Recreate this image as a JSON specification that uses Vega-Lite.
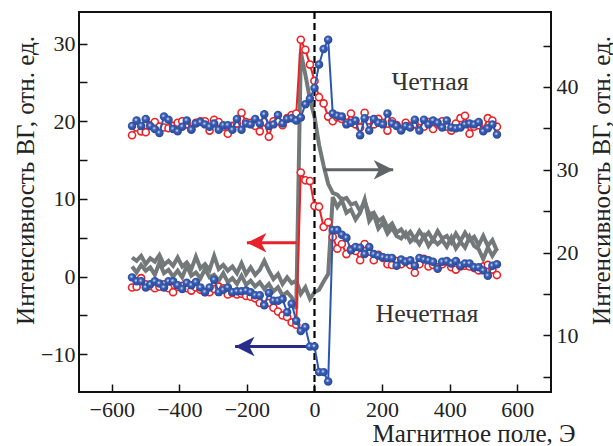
{
"$schema":"https://vega.github.io/schema/vega-lite/v6.json",
"width":472,"height":380,"autosize":"none",
"padding":{"left":79,"top":12,"right":62,"bottom":54},
"background":"white",
"config":{"view":{"stroke":"#111","strokeWidth":2},"font":"'Liberation Serif', 'DejaVu Serif', serif",
 "axis":{"labelFont":"'Liberation Serif', 'DejaVu Serif', serif","titleFont":"'Liberation Serif', 'DejaVu Serif', serif","labelFontSize":22,"titleFontSize":25,"titleFontWeight":"normal","labelColor":"#222","titleColor":"#222","tickSize":-8,"tickWidth":1.5,"tickColor":"#111","domain":false,"grid":false,"labelOverlap":false,"labelFlush":false}},
"datasets":{
"ru":[{"x":-540,"y":18.2},{"x":-526.5,"y":19.2},{"x":-513,"y":18.7},{"x":-499.5,"y":18.6},{"x":-486,"y":19.5},{"x":-472.5,"y":19.9},{"x":-459,"y":19.3},{"x":-445.5,"y":19.2},{"x":-432,"y":19.1},{"x":-418.5,"y":19.4},{"x":-405,"y":19.8},{"x":-391.5,"y":20.0},{"x":-378,"y":19.6},{"x":-364.5,"y":19.0},{"x":-351,"y":19.8},{"x":-337.5,"y":20.0},{"x":-324,"y":20.0},{"x":-310.5,"y":18.8},{"x":-297,"y":20.2},{"x":-283.5,"y":19.9},{"x":-270,"y":19.3},{"x":-256.5,"y":18.4},{"x":-243,"y":19.4},{"x":-229.5,"y":19.7},{"x":-216,"y":21.1},{"x":-202.5,"y":19.9},{"x":-189,"y":19.8},{"x":-175.5,"y":19.4},{"x":-162,"y":18.7},{"x":-148.5,"y":19.9},{"x":-135,"y":18.0},{"x":-121.5,"y":20.0},{"x":-108,"y":20.0},{"x":-94.5,"y":19.5},{"x":-81,"y":20.4},{"x":-67.5,"y":20.8},{"x":-54,"y":21.0},{"x":-40.5,"y":30.5},{"x":-27,"y":29.2},{"x":-13.5,"y":27.3},{"x":0,"y":25.2},{"x":13.5,"y":23.1},{"x":27,"y":22.3},{"x":40.5,"y":20.6},{"x":54,"y":20.0},{"x":67.5,"y":20.5},{"x":81,"y":20.3},{"x":94.5,"y":19.8},{"x":108,"y":21.0},{"x":121.5,"y":19.6},{"x":135,"y":19.2},{"x":148.5,"y":21.1},{"x":162,"y":20.1},{"x":175.5,"y":19.6},{"x":189,"y":20.3},{"x":202.5,"y":19.8},{"x":216,"y":18.8},{"x":229.5,"y":20.0},{"x":243,"y":19.5},{"x":256.5,"y":19.0},{"x":270,"y":19.8},{"x":283.5,"y":19.4},{"x":297,"y":19.6},{"x":310.5,"y":19.1},{"x":324,"y":19.3},{"x":337.5,"y":19.9},{"x":351,"y":19.0},{"x":364.5,"y":19.6},{"x":378,"y":20.0},{"x":391.5,"y":19.3},{"x":405,"y":18.8},{"x":418.5,"y":19.7},{"x":432,"y":20.4},{"x":445.5,"y":20.7},{"x":459,"y":18.4},{"x":472.5,"y":19.3},{"x":486,"y":19.5},{"x":499.5,"y":18.9},{"x":513,"y":20.4},{"x":526.5,"y":20.1},{"x":540,"y":19.3}],
"bu":[{"x":-540,"y":19.4},{"x":-526.5,"y":20.1},{"x":-513,"y":19.4},{"x":-499.5,"y":20.3},{"x":-486,"y":19.4},{"x":-472.5,"y":19.0},{"x":-459,"y":18.5},{"x":-445.5,"y":20.6},{"x":-432,"y":20.2},{"x":-418.5,"y":19.0},{"x":-405,"y":18.7},{"x":-391.5,"y":19.3},{"x":-378,"y":20.1},{"x":-364.5,"y":18.9},{"x":-351,"y":19.7},{"x":-337.5,"y":19.9},{"x":-324,"y":19.6},{"x":-310.5,"y":19.3},{"x":-297,"y":19.7},{"x":-283.5,"y":18.9},{"x":-270,"y":19.5},{"x":-256.5,"y":19.5},{"x":-243,"y":18.9},{"x":-229.5,"y":20.3},{"x":-216,"y":18.9},{"x":-202.5,"y":19.7},{"x":-189,"y":19.6},{"x":-175.5,"y":20.3},{"x":-162,"y":19.7},{"x":-148.5,"y":20.9},{"x":-135,"y":19.4},{"x":-121.5,"y":19.6},{"x":-108,"y":20.8},{"x":-94.5,"y":19.7},{"x":-81,"y":20.3},{"x":-67.5,"y":20.4},{"x":-54,"y":20.1},{"x":-40.5,"y":20.5},{"x":-27,"y":22.2},{"x":-13.5,"y":22.9},{"x":0,"y":24.3},{"x":13.5,"y":27.3},{"x":27,"y":29.3},{"x":40.5,"y":30.5},{"x":54,"y":21.0},{"x":67.5,"y":20.7},{"x":81,"y":20.6},{"x":94.5,"y":19.6},{"x":108,"y":19.8},{"x":121.5,"y":20.1},{"x":135,"y":18.2},{"x":148.5,"y":20.4},{"x":162,"y":18.8},{"x":175.5,"y":20.3},{"x":189,"y":19.8},{"x":202.5,"y":19.6},{"x":216,"y":21.0},{"x":229.5,"y":19.7},{"x":243,"y":19.4},{"x":256.5,"y":18.8},{"x":270,"y":19.4},{"x":283.5,"y":19.2},{"x":297,"y":20.2},{"x":310.5,"y":18.8},{"x":324,"y":20.2},{"x":337.5,"y":19.6},{"x":351,"y":20.1},{"x":364.5,"y":19.8},{"x":378,"y":19.2},{"x":391.5,"y":20.1},{"x":405,"y":19.2},{"x":418.5,"y":19.1},{"x":432,"y":19.2},{"x":445.5,"y":19.6},{"x":459,"y":19.7},{"x":472.5,"y":19.6},{"x":486,"y":19.9},{"x":499.5,"y":18.7},{"x":513,"y":19.1},{"x":526.5,"y":19.6},{"x":540,"y":18.3}],
"rl":[{"x":-540,"y":-1.4},{"x":-526.5,"y":-1.3},{"x":-513,"y":-0.2},{"x":-499.5,"y":-1.0},{"x":-486,"y":-1.2},{"x":-472.5,"y":-1.5},{"x":-459,"y":-1.3},{"x":-445.5,"y":-1.0},{"x":-432,"y":-1.5},{"x":-418.5,"y":-2.0},{"x":-405,"y":-1.3},{"x":-391.5,"y":-1.2},{"x":-378,"y":-1.5},{"x":-364.5,"y":-1.8},{"x":-351,"y":-1.4},{"x":-337.5,"y":-1.7},{"x":-324,"y":-2.0},{"x":-310.5,"y":-2.0},{"x":-297,"y":-1.6},{"x":-283.5,"y":-1.3},{"x":-270,"y":-1.5},{"x":-256.5,"y":-2.3},{"x":-243,"y":-2.1},{"x":-229.5,"y":-2.3},{"x":-216,"y":-2.2},{"x":-202.5,"y":-2.5},{"x":-189,"y":-2.6},{"x":-175.5,"y":-2.8},{"x":-162,"y":-3.4},{"x":-148.5,"y":-3.6},{"x":-135,"y":-3.4},{"x":-121.5,"y":-4.0},{"x":-108,"y":-4.5},{"x":-94.5,"y":-5.0},{"x":-81,"y":-5.2},{"x":-67.5,"y":-5.9},{"x":-54,"y":-6.2},{"x":-40.5,"y":13.4},{"x":-27,"y":12.4},{"x":-13.5,"y":12.3},{"x":0,"y":9.1},{"x":13.5,"y":9.0},{"x":27,"y":6.4},{"x":40.5,"y":7.0},{"x":54,"y":5.1},{"x":67.5,"y":3.6},{"x":81,"y":4.2},{"x":94.5,"y":2.9},{"x":108,"y":3.5},{"x":121.5,"y":3.3},{"x":135,"y":2.1},{"x":148.5,"y":4.2},{"x":162,"y":3.2},{"x":175.5,"y":2.1},{"x":189,"y":2.8},{"x":202.5,"y":2.4},{"x":216,"y":1.6},{"x":229.5,"y":1.5},{"x":243,"y":2.0},{"x":256.5,"y":1.6},{"x":270,"y":1.9},{"x":283.5,"y":1.5},{"x":297,"y":0.5},{"x":310.5,"y":1.6},{"x":324,"y":2.3},{"x":337.5,"y":1.3},{"x":351,"y":1.5},{"x":364.5,"y":1.2},{"x":378,"y":1.6},{"x":391.5,"y":1.9},{"x":405,"y":1.2},{"x":418.5,"y":0.9},{"x":432,"y":1.3},{"x":445.5,"y":1.4},{"x":459,"y":1.3},{"x":472.5,"y":1.1},{"x":486,"y":0.8},{"x":499.5,"y":1.3},{"x":513,"y":1.5},{"x":526.5,"y":0.9},{"x":540,"y":0.2}],
"bl":[{"x":-540,"y":-0.1},{"x":-526.5,"y":-0.6},{"x":-513,"y":-0.6},{"x":-499.5,"y":-1.4},{"x":-486,"y":-1.0},{"x":-472.5,"y":-0.6},{"x":-459,"y":-0.9},{"x":-445.5,"y":-1.4},{"x":-432,"y":-0.6},{"x":-418.5,"y":-0.6},{"x":-405,"y":-1.1},{"x":-391.5,"y":-1.6},{"x":-378,"y":-0.8},{"x":-364.5,"y":-1.1},{"x":-351,"y":-0.7},{"x":-337.5,"y":-1.4},{"x":-324,"y":-2.0},{"x":-310.5,"y":-1.4},{"x":-297,"y":-0.4},{"x":-283.5,"y":-2.0},{"x":-270,"y":-1.7},{"x":-256.5,"y":-1.4},{"x":-243,"y":-2.0},{"x":-229.5,"y":-1.9},{"x":-216,"y":-1.9},{"x":-202.5,"y":-1.8},{"x":-189,"y":-2.0},{"x":-175.5,"y":-2.4},{"x":-162,"y":-2.4},{"x":-148.5,"y":-3.7},{"x":-135,"y":-2.1},{"x":-121.5,"y":-3.1},{"x":-108,"y":-3.1},{"x":-94.5,"y":-2.9},{"x":-81,"y":-4.6},{"x":-67.5,"y":-3.5},{"x":-54,"y":-5.7},{"x":-40.5,"y":-7.0},{"x":-27,"y":-6.5},{"x":-13.5,"y":-9.0},{"x":0,"y":-9.0},{"x":13.5,"y":-12.3},{"x":27,"y":-12.3},{"x":40.5,"y":-13.5},{"x":54,"y":6.0},{"x":67.5,"y":6.0},{"x":81,"y":5.4},{"x":94.5,"y":5.0},{"x":108,"y":3.4},{"x":121.5,"y":3.8},{"x":135,"y":3.7},{"x":148.5,"y":2.9},{"x":162,"y":3.8},{"x":175.5,"y":2.9},{"x":189,"y":2.7},{"x":202.5,"y":2.5},{"x":216,"y":2.4},{"x":229.5,"y":2.4},{"x":243,"y":1.4},{"x":256.5,"y":2.2},{"x":270,"y":1.9},{"x":283.5,"y":2.1},{"x":297,"y":1.4},{"x":310.5,"y":2.4},{"x":324,"y":2.2},{"x":337.5,"y":2.1},{"x":351,"y":1.9},{"x":364.5,"y":1.0},{"x":378,"y":1.9},{"x":391.5,"y":2.0},{"x":405,"y":1.7},{"x":418.5,"y":2.0},{"x":432,"y":1.4},{"x":445.5,"y":1.7},{"x":459,"y":1.7},{"x":472.5,"y":1.2},{"x":486,"y":1.2},{"x":499.5,"y":0.8},{"x":513,"y":0.1},{"x":526.5,"y":1.4},{"x":540,"y":1.6}],
"ga":[{"x":-540,"y":18.3},{"x":-526.5,"y":17.6},{"x":-513,"y":18.5},{"x":-499.5,"y":17.8},{"x":-486,"y":18.2},{"x":-472.5,"y":17.3},{"x":-459,"y":18.8},{"x":-445.5,"y":17.5},{"x":-432,"y":17.9},{"x":-418.5,"y":17.1},{"x":-405,"y":17.8},{"x":-391.5,"y":17.0},{"x":-378,"y":18.4},{"x":-364.5,"y":17.2},{"x":-351,"y":17.6},{"x":-337.5,"y":16.9},{"x":-324,"y":18.0},{"x":-310.5,"y":17.0},{"x":-297,"y":17.3},{"x":-283.5,"y":16.6},{"x":-270,"y":17.5},{"x":-256.5,"y":16.4},{"x":-243,"y":16.9},{"x":-229.5,"y":16.2},{"x":-216,"y":17.2},{"x":-202.5,"y":16.1},{"x":-189,"y":16.6},{"x":-175.5,"y":15.9},{"x":-162,"y":16.4},{"x":-148.5,"y":15.6},{"x":-135,"y":16.2},{"x":-121.5,"y":15.3},{"x":-108,"y":15.8},{"x":-94.5,"y":14.8},{"x":-81,"y":15.2},{"x":-67.5,"y":14.6},{"x":-54,"y":13.2},{"x":-40.5,"y":44.2},{"x":-27,"y":41.5},{"x":-13.5,"y":38.5},{"x":0,"y":36.4},{"x":13.5,"y":33.0},{"x":27,"y":30.5},{"x":40.5,"y":28.3},{"x":54,"y":27.2},{"x":67.5,"y":27.0},{"x":81,"y":26.4},{"x":94.5,"y":26.6},{"x":108,"y":25.8},{"x":121.5,"y":26.0},{"x":135,"y":25.0},{"x":148.5,"y":26.2},{"x":162,"y":24.6},{"x":175.5,"y":24.8},{"x":189,"y":23.8},{"x":202.5,"y":24.2},{"x":216,"y":23.0},{"x":229.5,"y":23.5},{"x":243,"y":22.4},{"x":256.5,"y":22.8},{"x":270,"y":21.9},{"x":283.5,"y":22.5},{"x":297,"y":21.6},{"x":310.5,"y":22.6},{"x":324,"y":21.8},{"x":337.5,"y":22.4},{"x":351,"y":21.5},{"x":364.5,"y":22.6},{"x":378,"y":21.7},{"x":391.5,"y":22.0},{"x":405,"y":21.2},{"x":418.5,"y":22.3},{"x":432,"y":21.4},{"x":445.5,"y":22.4},{"x":459,"y":21.5},{"x":472.5,"y":21.9},{"x":486,"y":20.9},{"x":499.5,"y":22.0},{"x":513,"y":20.8},{"x":526.5,"y":21.5},{"x":540,"y":20.2}],
"gb":[{"x":-540,"y":19.4},{"x":-526.5,"y":19.0},{"x":-513,"y":19.6},{"x":-499.5,"y":18.6},{"x":-486,"y":19.3},{"x":-472.5,"y":18.9},{"x":-459,"y":19.7},{"x":-445.5,"y":18.5},{"x":-432,"y":19.0},{"x":-418.5,"y":18.4},{"x":-405,"y":19.4},{"x":-391.5,"y":18.3},{"x":-378,"y":18.8},{"x":-364.5,"y":18.0},{"x":-351,"y":19.5},{"x":-337.5,"y":18.1},{"x":-324,"y":18.6},{"x":-310.5,"y":17.9},{"x":-297,"y":19.6},{"x":-283.5,"y":18.0},{"x":-270,"y":18.5},{"x":-256.5,"y":17.8},{"x":-243,"y":18.3},{"x":-229.5,"y":17.5},{"x":-216,"y":18.7},{"x":-202.5,"y":17.4},{"x":-189,"y":18.2},{"x":-175.5,"y":17.3},{"x":-162,"y":17.9},{"x":-148.5,"y":19.0},{"x":-135,"y":17.8},{"x":-121.5,"y":16.8},{"x":-108,"y":17.4},{"x":-94.5,"y":16.2},{"x":-81,"y":17.0},{"x":-67.5,"y":16.3},{"x":-54,"y":16.6},{"x":-40.5,"y":15.0},{"x":-27,"y":15.8},{"x":-13.5,"y":14.4},{"x":0,"y":15.2},{"x":13.5,"y":15.5},{"x":27,"y":16.5},{"x":40.5,"y":17.4},{"x":54,"y":26.7},{"x":67.5,"y":25.5},{"x":81,"y":26.3},{"x":94.5,"y":24.8},{"x":108,"y":25.2},{"x":121.5,"y":24.0},{"x":135,"y":24.8},{"x":148.5,"y":26.4},{"x":162,"y":23.8},{"x":175.5,"y":24.6},{"x":189,"y":22.9},{"x":202.5,"y":23.6},{"x":216,"y":22.3},{"x":229.5,"y":23.0},{"x":243,"y":22.0},{"x":256.5,"y":21.7},{"x":270,"y":22.4},{"x":283.5,"y":21.3},{"x":297,"y":21.8},{"x":310.5,"y":21.0},{"x":324,"y":22.0},{"x":337.5,"y":20.8},{"x":351,"y":21.6},{"x":364.5,"y":21.0},{"x":378,"y":21.5},{"x":391.5,"y":20.7},{"x":405,"y":21.8},{"x":418.5,"y":20.5},{"x":432,"y":21.3},{"x":445.5,"y":20.6},{"x":459,"y":21.9},{"x":472.5,"y":20.8},{"x":486,"y":20.4},{"x":499.5,"y":19.2},{"x":513,"y":20.6},{"x":526.5,"y":19.6},{"x":540,"y":20.5}]
},
"layer":[
 {"layer":[
  {"data":{"name":"ga"},"mark":{"type":"line","color":"#737878","strokeWidth":4},
   "encoding":{
    "x":{"field":"x","type":"quantitative","scale":{"domain":[-697,700],"nice":false,"zero":false},
      "axis":{"orient":"bottom","title":"Магнитное поле, Э","values":[-600,-500,-400,-300,-200,-100,0,100,200,300,400,500,600],
        "labelExpr":"datum.value % 200 == 0 ? (datum.value < 0 ? '−' + abs(datum.value) : '' + datum.value) : ''",
        "labelPadding":15,"titleX":496,"titleY":49,"titleAlign":"right","titleBaseline":"alphabetic"}},
    "y":{"field":"y","type":"quantitative","scale":{"domain":[3.15,49.06],"nice":false,"zero":false},
      "axis":{"orient":"right","title":"Интенсивность ВГ, отн. ед.","values":[5,10,15,20,25,30,35,40,45],
        "labelExpr":"datum.value % 10 == 0 ? '' + datum.value : ''","labelPadding":13,
        "titleX":50,"titleY":168,"titleAngle":270,"titleAlign":"center","titleBaseline":"middle"}}}},
  {"data":{"name":"gb"},"mark":{"type":"line","color":"#737878","strokeWidth":4},
   "encoding":{"x":{"field":"x","type":"quantitative"},
    "y":{"field":"y","type":"quantitative","scale":{"domain":[3.15,49.06],"nice":false,"zero":false}}}},
  {"data":{"values":[{"from":26,"to":233,"y":30}]},"mark":{"type":"rule","color":"#5f6468","strokeWidth":3},
   "encoding":{"x":{"field":"from","type":"quantitative"},"x2":{"field":"to"},
    "y":{"field":"y","type":"quantitative","scale":{"domain":[3.15,49.06],"nice":false,"zero":false}}}},
  {"data":{"values":[{"from":26,"to":233,"y":30}]},"mark":{"type":"point","shape":"M0,0L-2,-1L-1.45,0L-2,1Z","filled":true,"color":"#5f6468","size":380,"strokeWidth":0,"opacity":1},
   "encoding":{"x":{"field":"to","type":"quantitative"},
    "y":{"field":"y","type":"quantitative","scale":{"domain":[3.15,49.06],"nice":false,"zero":false}}}}
 ]},
 {"layer":[
  {"data":{"values":[{"x":0}]},"mark":{"type":"rule","color":"#000","strokeWidth":2.2,"strokeDash":[7,4]},
   "encoding":{"x":{"field":"x","type":"quantitative"}}},
  {"data":{"name":"ru"},"mark":{"type":"line","color":"#ec2227","strokeWidth":2},
   "encoding":{"x":{"field":"x","type":"quantitative"},
    "y":{"field":"y","type":"quantitative","scale":{"domain":[-14.86,34.07],"nice":false,"zero":false},
      "axis":{"orient":"left","title":"Интенсивность ВГ, отн. ед.","values":[-10,-5,0,5,10,15,20,25,30],
        "labelExpr":"datum.value % 10 == 0 ? (datum.value < 0 ? '−' + abs(datum.value) : '' + datum.value) : ''","labelPadding":12,
        "titleX":-54,"titleY":168,"titleAngle":270,"titleAlign":"center","titleBaseline":"middle"}}}},
  {"data":{"name":"rl"},"mark":{"type":"line","color":"#ec2227","strokeWidth":2},
   "encoding":{"x":{"field":"x","type":"quantitative"},"y":{"field":"y","type":"quantitative","scale":{"domain":[-14.86,34.07],"nice":false,"zero":false}}}},
  {"data":{"values":[{"from":-53,"to":-200,"y":4.35}]},"mark":{"type":"rule","color":"#e8212b","strokeWidth":3},
   "encoding":{"x":{"field":"from","type":"quantitative"},"x2":{"field":"to"},"y":{"field":"y","type":"quantitative","scale":{"domain":[-14.86,34.07],"nice":false,"zero":false}}}},
  {"data":{"values":[{"from":-53,"to":-200,"y":4.35}]},"mark":{"type":"point","shape":"M0,0L2,-1L1.45,0L2,1Z","filled":true,"color":"#e8212b","size":380,"strokeWidth":0,"opacity":1},
   "encoding":{"x":{"field":"to","type":"quantitative"},"y":{"field":"y","type":"quantitative","scale":{"domain":[-14.86,34.07],"nice":false,"zero":false}}}},
  {"data":{"values":[{"from":-13.5,"to":-235,"y":-9.0}]},"mark":{"type":"rule","color":"#272b8c","strokeWidth":3},
   "encoding":{"x":{"field":"from","type":"quantitative"},"x2":{"field":"to"},"y":{"field":"y","type":"quantitative","scale":{"domain":[-14.86,34.07],"nice":false,"zero":false}}}},
  {"data":{"values":[{"from":-13.5,"to":-235,"y":-9.0}]},"mark":{"type":"point","shape":"M0,0L2,-1L1.45,0L2,1Z","filled":true,"color":"#272b8c","size":380,"strokeWidth":0,"opacity":1},
   "encoding":{"x":{"field":"to","type":"quantitative"},"y":{"field":"y","type":"quantitative","scale":{"domain":[-14.86,34.07],"nice":false,"zero":false}}}},
  {"data":{"name":"ru"},"mark":{"type":"point","shape":"circle","filled":true,"fill":"white","stroke":"#ec2227","strokeWidth":1.6,"size":50,"opacity":1},
   "encoding":{"x":{"field":"x","type":"quantitative"},"y":{"field":"y","type":"quantitative","scale":{"domain":[-14.86,34.07],"nice":false,"zero":false}}}},
  {"data":{"name":"rl"},"mark":{"type":"point","shape":"circle","filled":true,"fill":"white","stroke":"#ec2227","strokeWidth":1.6,"size":50,"opacity":1},
   "encoding":{"x":{"field":"x","type":"quantitative"},"y":{"field":"y","type":"quantitative","scale":{"domain":[-14.86,34.07],"nice":false,"zero":false}}}},
  {"data":{"name":"bu"},"mark":{"type":"line","color":"#2d55b3","strokeWidth":2},
   "encoding":{"x":{"field":"x","type":"quantitative"},"y":{"field":"y","type":"quantitative","scale":{"domain":[-14.86,34.07],"nice":false,"zero":false}}}},
  {"data":{"name":"bl"},"mark":{"type":"line","color":"#2d55b3","strokeWidth":2},
   "encoding":{"x":{"field":"x","type":"quantitative"},"y":{"field":"y","type":"quantitative","scale":{"domain":[-14.86,34.07],"nice":false,"zero":false}}}},
  {"data":{"name":"bu"},"mark":{"type":"point","shape":"circle","filled":true,"strokeWidth":0,"size":72,"opacity":1,
     "fill":{"gradient":"radial","x1":0.42,"y1":0.4,"r1":0,"x2":0.45,"y2":0.45,"r2":0.55,"stops":[{"offset":0,"color":"#f2f5fc"},{"offset":0.16,"color":"#a8b9e4"},{"offset":0.36,"color":"#3b60b6"},{"offset":1,"color":"#28489a"}]}},
   "encoding":{"x":{"field":"x","type":"quantitative"},"y":{"field":"y","type":"quantitative","scale":{"domain":[-14.86,34.07],"nice":false,"zero":false}}}},
  {"data":{"name":"bl"},"mark":{"type":"point","shape":"circle","filled":true,"strokeWidth":0,"size":72,"opacity":1,
     "fill":{"gradient":"radial","x1":0.42,"y1":0.4,"r1":0,"x2":0.45,"y2":0.45,"r2":0.55,"stops":[{"offset":0,"color":"#f2f5fc"},{"offset":0.16,"color":"#a8b9e4"},{"offset":0.36,"color":"#3b60b6"},{"offset":1,"color":"#28489a"}]}},
   "encoding":{"x":{"field":"x","type":"quantitative"},"y":{"field":"y","type":"quantitative","scale":{"domain":[-14.86,34.07],"nice":false,"zero":false}}}},
  {"data":{"values":[{"x":342,"y":25.0,"t":"Четная"},{"x":333,"y":-4.8,"t":"Нечетная"}]},
   "mark":{"type":"text","font":"'Liberation Serif', 'DejaVu Serif', serif","fontSize":26,"color":"#333","align":"center","baseline":"middle"},
   "encoding":{"x":{"field":"x","type":"quantitative"},"y":{"field":"y","type":"quantitative","scale":{"domain":[-14.86,34.07],"nice":false,"zero":false}},"text":{"field":"t"}}}
 ]}
],
"resolve":{"scale":{"y":"independent"},"axis":{"y":"independent"}}
}
